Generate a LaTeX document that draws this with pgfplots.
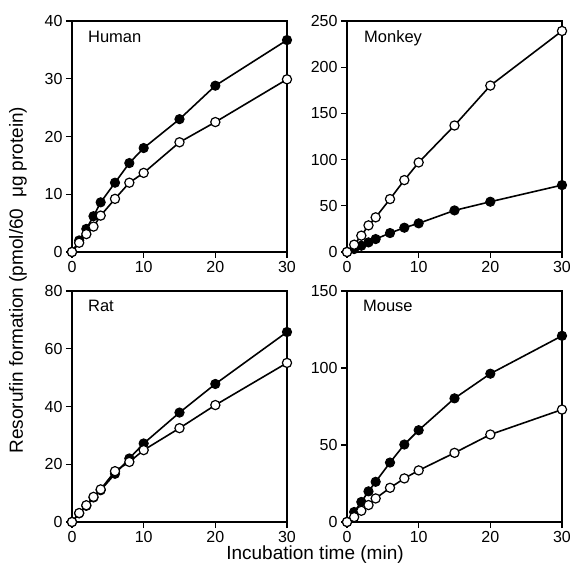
\documentclass[border=0pt]{standalone}
\usepackage{fontspec}
\setmainfont{Liberation Sans}
\usepackage{pgfplots}
\pgfplotsset{compat=1.18}
\pgfplotsset{
  panel/.style={
    scale only axis, width=215pt, height=231pt,
    xmin=0, xmax=30, xtick={0,10,20,30},
    tick pos=left, tick align=outside, major tick length=6pt,
    axis line style={line width=1.3pt},
    tick style={line width=1.3pt, black},
    ticklabel style={font=\fontsize{16}{16}\selectfont},
    /pgf/number format/assume math mode=true,
    clip=false,
    anchor=south west,
  },
  filled/.style={black, line width=1.6pt, mark=*, mark size=4.6pt, mark options={fill=black, line width=1pt}},
  open/.style={black, line width=1.6pt, mark=*, mark size=4.6pt, mark options={fill=white, line width=1.2pt}},
}
\tikzset{lab/.style={anchor=base west, inner sep=0pt, font=\fontsize{16.5}{16.5}\selectfont}}
\begin{document}
\begin{tikzpicture}
\useasboundingbox (0pt,0pt) rectangle (570pt,571pt);
% Human
\begin{axis}[panel, at={(72pt,319pt)}, ymin=0, ymax=40, ytick={0,10,20,30,40}]
\addplot[filled] coordinates {(0,0) (1,2.0) (2,4.0) (3,6.2) (4,8.6) (6,12.0) (8,15.4) (10,18.0) (15,23.0) (20,28.8) (30,36.7)};
\addplot[open] coordinates {(0,0) (1,1.6) (2,3.1) (3,4.4) (4,6.3) (6,9.2) (8,12.0) (10,13.7) (15,19.0) (20,22.5) (30,29.9)};
\node[lab] at (rel axis cs:0.074,0.909) {Human};
\end{axis}
% Monkey
\begin{axis}[panel, at={(347pt,319pt)}, ymin=0, ymax=250, ytick={0,50,100,150,200,250}]
\addplot[filled] coordinates {(0,0) (1,3.2) (2,6.8) (3,10.4) (4,14.0) (6,20.5) (8,26.3) (10,31.0) (15,45.0) (20,54.4) (30,72.4)};
\addplot[open] coordinates {(0,0) (1,7.9) (2,17.7) (3,28.8) (4,37.5) (6,57.3) (8,77.8) (10,96.9) (15,136.9) (20,180.1) (30,239.2)};
\node[lab] at (rel axis cs:0.079,0.909) {Monkey};
\end{axis}
% Rat
\begin{axis}[panel, at={(72pt,49pt)}, ymin=0, ymax=80, ytick={0,20,40,60,80}]
\addplot[filled] coordinates {(0,0) (1,3.0) (2,5.6) (3,8.5) (4,11.0) (6,16.7) (8,22.0) (10,27.2) (15,37.9) (20,47.8) (30,65.8)};
\addplot[open] coordinates {(0,0) (1,3.1) (2,5.8) (3,8.7) (4,11.3) (6,17.6) (8,20.8) (10,24.9) (15,32.5) (20,40.5) (30,55.1)};
\node[lab] at (rel axis cs:0.074,0.913) {Rat};
\end{axis}
% Mouse
\begin{axis}[panel, at={(347pt,49pt)}, ymin=0, ymax=150, ytick={0,50,100,150}]
\addplot[filled] coordinates {(0,0) (1,6.5) (2,13.0) (3,19.9) (4,26.1) (6,38.6) (8,50.3) (10,59.6) (15,80.3) (20,96.3) (30,120.9)};
\addplot[open] coordinates {(0,0) (1,3.2) (2,7.3) (3,11.0) (4,15.3) (6,22.2) (8,28.3) (10,33.5) (15,44.9) (20,56.8) (30,73.0)};
\node[lab] at (rel axis cs:0.074,0.913) {Mouse};
\end{axis}
\node[rotate=90, font=\fontsize{19}{19}\selectfont] at (18pt,291pt) {Resorufin formation (pmol/60\ \ μg protein)};
\node[font=\fontsize{19}{19}\selectfont] at (315pt,16pt) {Incubation time (min)};
\end{tikzpicture}
\end{document}
